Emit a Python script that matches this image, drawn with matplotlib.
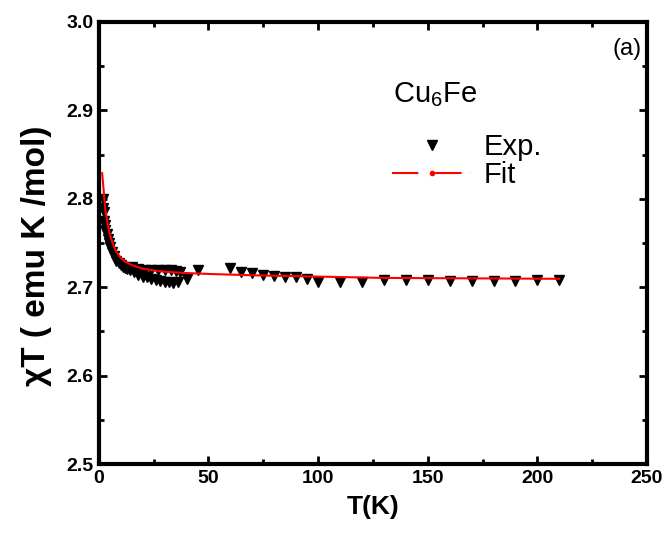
import matplotlib
matplotlib.use('Agg')
import matplotlib.pyplot as plt
from matplotlib.lines import Line2D
from matplotlib.ticker import MultipleLocator

# --- Data ---
exp_T = [1.8, 2.0, 2.2, 2.5, 2.8, 3.0, 3.5, 4.0, 4.5, 5.0, 6.0, 7.0, 8.0, 9.0,
         10, 11, 12, 13, 14, 16, 18, 20, 22, 24, 26, 28, 30, 32, 34, 36,
         15, 18, 21, 24, 27, 30, 33, 35, 37, 40, 45,
         60, 65, 70, 75, 80, 85, 90, 95, 100, 110, 120,
         130, 140, 150, 160, 170, 180, 190, 200, 210]
exp_chiT = [2.800, 2.790, 2.785, 2.775, 2.770, 2.765, 2.760, 2.755, 2.750, 2.745,
            2.740, 2.735, 2.730, 2.727, 2.725, 2.723, 2.722, 2.721, 2.720,
            2.717, 2.714, 2.712, 2.711, 2.709, 2.708, 2.707, 2.706, 2.706, 2.705, 2.706,
            2.723, 2.721, 2.720, 2.720, 2.719, 2.7195, 2.719, 2.718, 2.717, 2.709, 2.7195,
            2.7217, 2.7175, 2.7157, 2.7138, 2.713, 2.711, 2.711, 2.709, 2.706, 2.7055, 2.7055,
            2.708, 2.708, 2.708, 2.707, 2.707, 2.707, 2.707, 2.708, 2.708]

fit_T = [1.5, 2.0, 2.5, 3.0, 4.0, 5.0, 6.0, 7.0, 8.0, 10, 12, 15, 20, 25, 30,
         40, 50, 70, 100, 130, 170, 210]
fit_chiT = [2.829, 2.815, 2.800, 2.787, 2.772, 2.760, 2.752, 2.745, 2.740, 2.733,
            2.729, 2.725, 2.721, 2.719, 2.7175, 2.716, 2.715, 2.7135, 2.712,
            2.7105, 2.710, 2.7095]

# --- Fonts ---
plt.rcParams['font.family'] = ['Liberation Sans', 'DejaVu Sans']
plt.rcParams['mathtext.fontset'] = 'custom'
plt.rcParams['mathtext.rm'] = 'Liberation Sans'
plt.rcParams['mathtext.it'] = 'Liberation Sans:italic'
plt.rcParams['lines.scale_dashes'] = False

fig = plt.figure(figsize=(6.68, 5.40), dpi=100)
ax = fig.add_axes([0.148, 0.1407, 0.8206, 0.8186])

ax.plot(exp_T, exp_chiT, linestyle='none', marker='v', markersize=7.5,
        color='black', zorder=3)
ax.plot(fit_T, fit_chiT, color='red', linewidth=1.5, zorder=4)

ax.set_xlim(0, 250)
ax.set_ylim(2.5, 3.0)
ax.xaxis.set_major_locator(MultipleLocator(50))
ax.xaxis.set_minor_locator(MultipleLocator(25))
ax.yaxis.set_major_locator(MultipleLocator(0.1))
ax.yaxis.set_minor_locator(MultipleLocator(0.05))
ax.yaxis.set_major_formatter(matplotlib.ticker.FormatStrFormatter('%.1f'))

for side in ax.spines.values():
    side.set_linewidth(3)
ax.tick_params(which='both', direction='in', top=True, right=True, width=2)
ax.tick_params(which='major', length=6, labelsize=14, pad=4)
ax.tick_params(which='minor', length=3.5)
for lab in ax.get_xticklabels() + ax.get_yticklabels():
    lab.set_fontweight('bold')

ax.set_xlabel('T(K)', fontsize=19, fontweight='bold', labelpad=6)
ax.set_ylabel('\u03c7T ( emu K /mol)', fontsize=24, fontweight='bold')
ax.yaxis.set_label_coords(-0.086, 0.47)

# --- Annotations / legend ---
ax.text(0.991, 0.939, '(a)', transform=ax.transAxes, fontsize=17,
        ha='right', va='center')
ax.text(0.536, 0.835, 'Cu$_6$Fe', transform=ax.transAxes, fontsize=21,
        ha='left', va='center')

handles = [
    Line2D([], [], linestyle='none', marker='v', markersize=7.5, color='black'),
    Line2D([], [], color='red', linewidth=1.5, marker='.', markersize=6,
           markevery=[1], linestyle=(0, (19, 6, 0.1, 6))),
]
ax.legend(handles, ['Exp.', 'Fit'], loc='upper left',
          bbox_to_anchor=(0.535, 0.748), frameon=False, fontsize=21,
          handlelength=2.75, handletextpad=0.38, labelspacing=0.0,
          borderpad=0, borderaxespad=0)

fig.savefig('out.png', dpi=100)
